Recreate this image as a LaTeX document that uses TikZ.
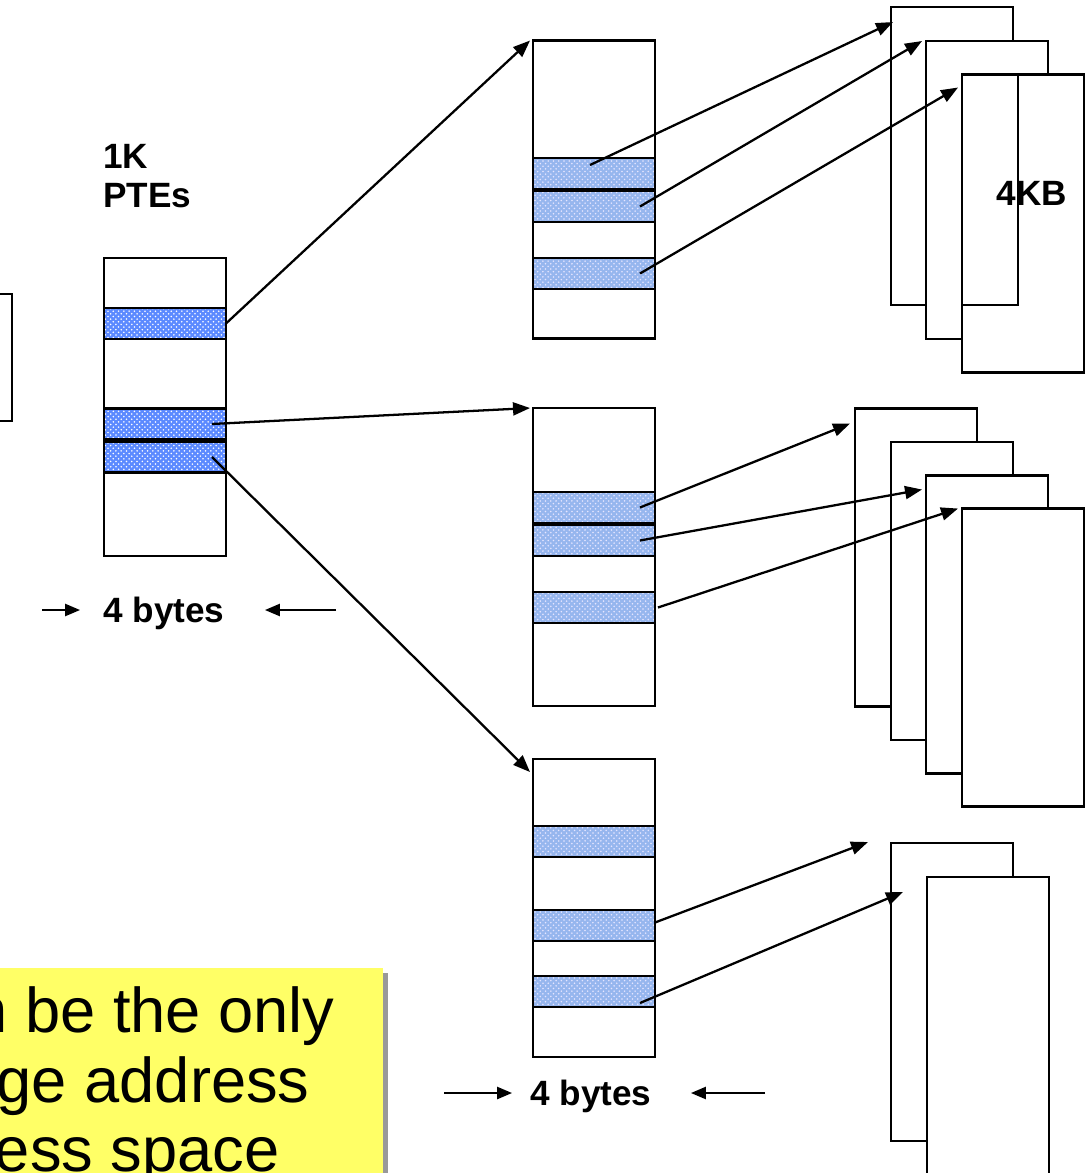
\documentclass[tikz,border=0pt]{standalone}
\usepackage{fontspec}
\setmainfont{Liberation Sans}
\usetikzlibrary{arrows.meta,patterns,shadows}
\definecolor{pteblue}{RGB}{92,138,255}
\definecolor{ptelight}{RGB}{150,182,238}
\definecolor{noteyellow}{RGB}{255,255,102}
\begin{document}
\begin{tikzpicture}[
        x=0.02cm, y=-0.02cm,
        box/.style={draw, line width=1.6pt, fill=white, inner sep=0pt, outer sep=0pt,
                    minimum width=2.44cm, minimum height=5.96cm},
        pte/.style={draw, line width=1.6pt, inner sep=0pt, outer sep=0pt,
                    minimum width=2.44cm, minimum height=0.62cm},
        dir/.style={pte, preaction={fill=pteblue}, pattern=crosshatch dots, pattern color=white},
        ent/.style={pte, preaction={fill=ptelight}, pattern=crosshatch dots, pattern color=white!90!blue},
        ptr/.style={-{Triangle[length=0.34cm,width=0.26cm]}, line width=1.3pt},
        dim/.style={-{Triangle[length=0.3cm,width=0.24cm]}, line width=1.3pt},
        lbl/.style={inner sep=0pt, font=\fontsize{20}{22}\selectfont\bfseries},
        notetext/.style={inner sep=0pt, font=\fontsize{36}{40}\selectfont}
    ]

    \clip (0,0) rectangle (1087,1173);

    % page directory, cut at the left edge
    \node[draw, line width=1.6pt, minimum width=2.24cm, minimum height=2.54cm] (root) at (-44,357.5) {};

    % first level table
    \node[lbl, anchor=north west, align=left] (ptes) at (103,144) {1K\\PTEs};
    \node[box] (l1) at (165,407) {};
    \node[dir] (l1r1) at (165,323.5) {};
    \node[dir] (l1r2) at (165,424) {};
    \node[dir] (l1r3) at (165,457) {};

    \node[lbl] (sz1) at (164,613) {4 bytes};
    \coordinate (sz1l) at (42,610);
    \coordinate (sz1r) at (336,610);
    \draw[dim] (sz1l) -- ([xshift=-0.46cm]sz1.west |- sz1l);
    \draw[dim] (sz1r) -- ([xshift=0.8cm]sz1.east |- sz1r);

    % second level tables
    \node[box] (t1) at (594,189.5) {};
    \node[ent] (t1r1) at (594,173.5) {};
    \node[ent] (t1r2) at (594,206.5) {};
    \node[ent] (t1r3) at (594,273.5) {};

    \node[box] (t2) at (594,557) {};
    \node[ent] (t2r1) at (594,507.5) {};
    \node[ent] (t2r2) at (594,540.5) {};
    \node[ent] (t2r3) at (594,607.5) {};

    \node[box] (t3) at (594,908) {};
    \node[ent] (t3r1) at (594,841.5) {};
    \node[ent] (t3r2) at (594,925.5) {};
    \node[ent] (t3r3) at (594,991.5) {};

    \node[lbl] (sz2) at (591,1096) {4 bytes};
    \coordinate (sz2l) at (444,1093);
    \coordinate (sz2r) at (765,1093);
    \draw[dim] (sz2l) -- ([xshift=-0.36cm]sz2.west |- sz2l);
    \draw[dim] (sz2r) -- ([xshift=0.78cm]sz2.east |- sz2r);

    % pages
    \node[box] (pg1a) at (952,156) {};
    \node[box] (pg1b) at (987,190) {};
    \node[box] (pg1c) at (1023,223.5) {};
    \node[draw, line width=1.6pt, inner sep=0pt, minimum width=1.12cm, minimum height=4.6cm] (pg1x) at (990,190) {};
    \node[lbl] (kb) at (1032,193) {4KB};

    \node[box] (pg2a) at (916,557.5) {};
    \node[box] (pg2b) at (952,591) {};
    \node[box] (pg2c) at (987,624.5) {};
    \node[box] (pg2d) at (1023,657.5) {};

    \node[box] (pg3a) at (952,992) {};
    \node[box] (pg3b) at (988,1026) {};

    % pointers
    \draw[ptr] (l1r1.east) -- ([xshift=-0.06cm]t1.north west);
    \draw[ptr] ([xshift=0.94cm]l1r2.center) -- ([xshift=-0.06cm]t2.north west);
    \draw[ptr] ([xshift=0.94cm]l1r3.center) -- ([shift={(-0.06cm,-0.26cm)}]t3.north west);

    \draw[ptr] ([shift={(-0.08cm,0.17cm)}]t1r1.center) -- ([shift={(0.04cm,-0.3cm)}]pg1a.north west);
    \draw[ptr] ([xshift=0.92cm]t1r2.center) -- ([xshift=-0.08cm]pg1b.north west);
    \draw[ptr] ([xshift=0.92cm]t1r3.center) -- ([shift={(-0.08cm,-0.26cm)}]pg1c.north west);

    \draw[ptr] ([xshift=0.92cm]t2r1.center) -- ([shift={(-0.1cm,-0.3cm)}]pg2a.north west);
    \draw[ptr] ([xshift=0.92cm]t2r2.center) -- ([shift={(-0.08cm,-0.28cm)}]pg2c.north west);
    \draw[ptr] ([xshift=0.06cm]t2r3.east) -- ([xshift=-0.08cm]pg2d.north west);

    \draw[ptr] ([yshift=0.06cm]t3r2.east) -- ([shift={(-0.46cm,0.02cm)}]pg3a.north west);
    \draw[ptr] ([shift={(0.92cm,-0.23cm)}]t3r3.center) -- ([shift={(-0.48cm,-0.3cm)}]pg3b.north west);

    % note
    \node[fill=noteyellow, inner sep=0pt, minimum width=8.06cm, minimum height=4.64cm,
          drop shadow={shadow xshift=0.1cm, shadow yshift=-0.1cm, fill=black!40, opacity=1}]
          (note) at (181.5,1084) {};
    \node[notetext, anchor=base east] (nl1) at (335,1032) {n be the only};
    \node[notetext, anchor=base east] (nl2) at (310,1102) {ge address};
    \node[notetext, anchor=base east] (nl3) at (280,1171) {ess space};

\end{tikzpicture}
\end{document}
